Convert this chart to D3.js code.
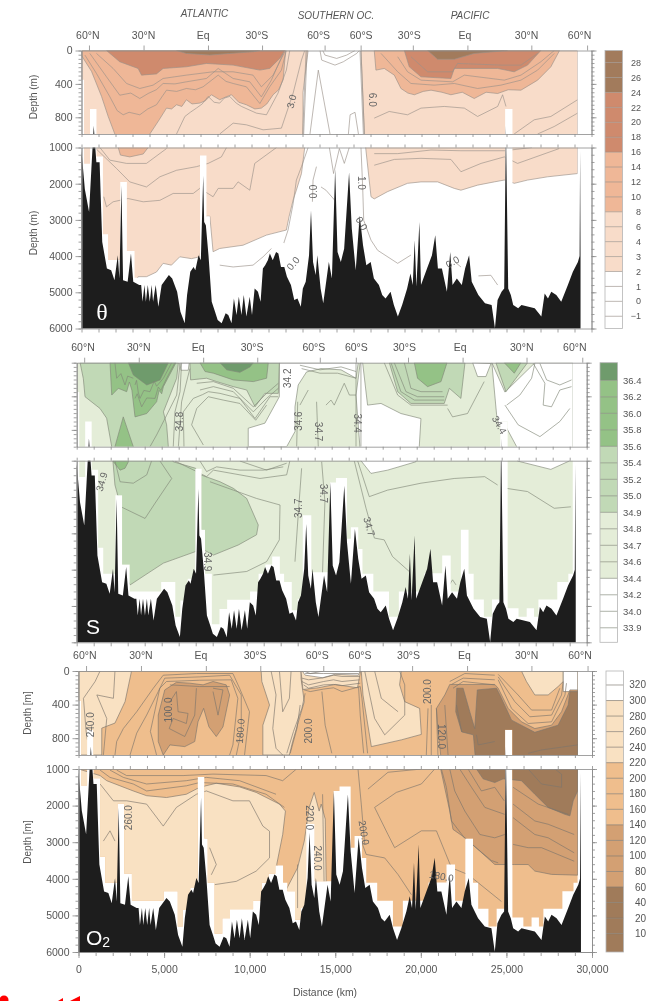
<!DOCTYPE html>
<html><head><meta charset="utf-8">
<script src="https://cdnjs.cloudflare.com/ajax/libs/d3/7.8.5/d3.min.js"></script>
<style>
html,body{margin:0;padding:0;background:#fff}
svg{display:block;filter:blur(0.45px)}
text{font-family:"Liberation Sans",Arial,sans-serif}
</style></head><body><svg id="c" width="651" height="1001"></svg>
<script>
// ---------- shared section geometry (distance km, depth m) ----------
const bathyKm=[0,195,445,580,720,875,1065,1220,1495,1745,1940,2135,2230,2350,2445,2715,2910,3045,3395,3510,3590,3705,3785,3900,4015,4130,4210,4365,4520,4715,5140,5335,5625,5820,6070,6210,6400,6595,6695,6885,7020,7160,7215,7315,7470,7660,7855,8010,8245,8480,8635,8825,8965,9120,9255,9410,9545,9700,9895,10030,10185,10380,10535,10670,10805,10960,11080,11250,11445,11580,11735,11930,12085,12320,12515,12705,12900,13020,13190,13385,13500,13620,13775,13870,14065,14220,14550,14730,14920,15060,15255,15450,15740,15900,16130,16365,16560,16755,17010,17200,17495,17690,17885,18180,18375,18610,18860,19155,19350,19485,19600,19700,19875,19970,20325,20615,20810,20965,21200,21495,21690,21825,22080,22370,22565,22800,22955,23345,23735,24125,24320,24475,24710,24865,24965,25100,25255,25395,25685,25880,26660,27050,27245,27440,27635,27930,28220,28610,28905,29200,29300,29330,29355];
const bathyDepth=[1090,2145,2785,1600,900,1410,1410,3610,4345,4390,4665,3975,4620,2055,4665,4710,3930,4710,4800,4800,5260,4800,5260,4800,5260,4800,5260,4800,5400,4800,4525,4620,4985,5535,5855,5075,4435,4300,4390,3975,4115,1780,3060,3150,3975,5260,5535,5765,5855,5580,5625,5855,5170,5625,5120,5625,5075,5670,5120,5625,4895,4985,5260,4345,4250,4115,3930,4115,3885,3930,4300,4300,4570,4800,5215,5170,5400,4895,4710,3975,2740,4160,4525,3975,4895,5305,4160,4620,1595,3885,4160,3795,1690,3245,4390,2880,3700,4250,4160,4620,4800,5075,5170,4985,5350,5670,5350,4895,4480,4800,3565,4845,3060,4800,4345,3975,3425,4345,4345,4985,3885,4800,4620,4800,4345,3975,4710,5075,5305,5350,5990,5215,4985,4895,900,4895,5075,5350,5440,5350,5440,5670,5030,5170,4985,5075,5260,4800,4435,4160,4000,1100,3975];
const floorKm=[0,150,500,880,1260,1560,2280,2670,3120,4970,5800,6100,6530,6970,7350,7550,7950,8400,8850,10200,10700,11100,11500,11950,12200,12650,13000,13300,13800,14900,15250,15900,16130,16560,16810,17450,18370,18950,20450,21500,22000,22600,23050,23350,23950,24430,24920,25350,25990,26470,26900,27160,28270,28920,29180];
const floorDepth=[350,1450,700,1250,3400,4110,1950,3860,4600,4340,5300,4850,4250,1220,2900,4110,5500,5080,4830,4600,4110,3860,3640,4110,4340,5120,4800,2500,4070,1600,1480,3150,2830,3430,4110,4600,5300,4600,4100,3610,4600,2900,4110,4820,5300,4820,700,5060,5300,5060,5300,4820,4340,4110,4110];
const latTickKm=[440,3650,7440,10620,14300,16420,19490,22700,26460,29740];
const latLabelKm=[370,3650,7150,10320,13950,16450,19280,22550,26180,29300];
const latLabels=["60°N","30°N","Eq","30°S","60°S","60°S","30°S","Eq","30°N","60°N"];

// ---------- theta ----------
const thetaLevels=["28","26","24","22","20","18","16","14","12","10","8","6","4","3","2","1","0","−1"];
const thetaColors=["#a27b5c","#cf8a6d","#efb797","#f8dcc9","#ffffff"];
const thetaPaleA=[[13330,0],[13030,500],[13030,1000],[13130,1001],[12940,1720],[12640,2180],[12450,2450],[12210,2910],[12050,3280],[10880,3420],[9500,3700],[8130,3790],[7740,3880],[7550,2900],[7350,2900],[6960,4020],[6470,4070],[5780,4020],[5290,4250],[4800,4200],[4410,4440],[3820,4570],[3330,4570],[3100,4800],[0,4800],[0,0]];
const thetaPaleP=[[16440,0],[16640,1000],[16730,1070],[17030,2360],[17220,2420],[18000,2220],[19180,1990],[19970,1950],[20950,1950],[21930,2130],[22320,2180],[23300,2040],[24280,1950],[24870,1900],[25460,1990],[26240,1900],[27420,1810],[29180,1720],[29180,0]];
const thetaSalmonA=[[0,60],[590,250],[1180,550],[1570,790],[1960,1000],[2160,1001],[2290,1210],[2840,1260],[3630,1180],[3920,1001],[4020,1000],[4570,830],[5000,690],[5300,700],[5590,650],[5900,670],[6170,590],[6500,640],[6960,630],[7300,600],[7640,530],[8130,590],[8450,560],[8820,530],[9250,620],[9700,650],[10200,700],[10580,690],[10900,640],[11270,530],[11600,470],[11860,350],[12010,0],[0,0]];
const thetaSalmonP=[[17220,0],[17320,235],[17810,215],[18400,295],[18790,455],[19200,510],[19580,530],[20100,490],[20560,475],[21200,500],[21730,530],[22400,500],[23100,575],[23800,500],[24480,515],[25100,470],[25850,475],[26830,355],[27610,195],[28120,0]];
const thetaTerraA=[[1470,0],[2250,135],[3330,215],[3530,295],[4410,280],[4800,215],[6170,195],[7350,155],[8920,175],[10490,235],[11070,215],[11660,95],[11960,0]];
const thetaTerraP=[[18990,0],[19280,195],[19970,315],[21730,335],[21930,215],[24480,215],[25450,255],[26240,175],[27020,0]];
const thetaBrownA=[[5590,0],[6170,35],[7550,55],[8730,35],[10100,15],[10490,0]];
const thetaBrownP=[[20360,0],[20950,105],[21930,105],[23100,35],[25060,0]];
const thetaLines=[
[[5590,1000],[6080,790],[6400,740],[6760,690],[7100,640],[7450,550],[7800,620],[8130,630],[8400,570],[8720,550],[9100,630],[9410,670],[10290,750],[10880,770],[11560,510],[12050,235],[12250,0]],
[[8130,1000],[8920,870],[9700,890],[10680,950],[11760,930],[12450,510],[12940,115],[13130,0]],
[[200,55],[880,275],[1670,555],[2100,720],[2450,770],[2800,740],[3430,770],[3900,700],[4410,650],[5000,475],[5600,490],[6170,455],[6700,470],[7150,435],[8040,295],[8500,370],[8920,395],[9700,435],[10490,635],[11070,435],[11760,235],[12050,0]],
[[490,35],[1470,315],[2250,535],[2900,510],[3430,575],[3920,515],[4400,470],[4800,395],[5500,400],[6170,375],[7350,335],[8040,215],[8920,335],[9900,375],[10580,555],[11170,355],[11860,35]],
[[880,35],[1860,215],[2650,395],[3430,455],[4210,415],[4800,335],[6170,295],[7740,255],[8920,255],[10090,295],[10580,435],[11270,295],[11960,15]],
[[1080,1001],[1670,1350],[2650,1440],[3820,1440],[5000,1030]],
[[780,1001],[2060,1580],[2840,1950],[3820,2090],[4610,1810],[5590,1630],[6760,1530],[7450,1440],[8230,1260],[8530,1001]],
[[1310,2360],[1470,2640],[1860,2500],[2740,2410],[3630,2500],[4610,2460],[5390,2270],[6570,2270],[6960,2130],[7740,2360],[8040,2130],[8920,2130],[9210,1950],[9900,2180],[10190,1440],[11470,1001]],
[[13330,1001],[12940,1530],[12640,1900],[12450,2550],[12150,3280],[11860,3700]],
[[13820,1530],[13620,1900],[13580,2550]],
[[14030,0],[14130,115],[14910,175],[15400,135],[16190,35],[16340,0]],
[[14190,0],[14320,55],[15010,95],[15600,55],[16090,0]],
[[15700,1000],[15800,770],[16090,740],[16290,1000]],
[[13440,1000],[13930,235],[14620,1000]],
[[13210,0],[13010,1000]],[[13270,0],[13070,1000]],[[16380,0],[16580,1000]],[[16440,0],[16640,1000]],
[[14580,1001],[14830,1720],[15170,1030],[15460,1440],[15750,1001]],
[[14088,2090],[14380,2180],[15070,2550]],
[[16440,1001],[16540,2090],[16600,3010],[17030,3560],[17420,3840],[18600,4200],[19380,3970]],
[[23200,4550],[24080,4530],[24480,4800]],
[[21240,4200],[21830,4110],[22320,4300]],
[[8130,4250],[8920,4300],[10090,4250],[10680,4020],[11170,3790]],
[[17220,810],[18100,730],[19180,770],[19970,690],[21340,670],[22520,690],[23300,790],[24480,670],[24770,530],[24970,670]],
[[25450,1000],[26630,830],[27610,790],[29180,590]],
[[26830,1000],[27810,910],[29180,750]],
[[17220,1170],[18600,1170],[20560,1070],[22320,1090],[24870,1090],[26500,1001]],
[[17220,1490],[18400,1330],[19970,1300],[21730,1330],[22320,1670],[23500,1440],[24870,1260],[25650,1440],[28100,1030]],
[[17620,35],[18600,255],[19380,395],[20750,415],[21930,395],[23300,455],[24670,415],[25850,355],[26830,235],[27810,35]],
[[18600,75],[19180,255],[19970,355],[21830,375],[22520,295],[24870,355],[25850,295],[27020,135],[27810,0]],
[[19380,75],[20360,255],[21830,255],[22120,155],[24670,175],[25850,175],[26830,35]]];
const thetaNotes=[["3.0",12360,610,-75],["6.0",17130,590,90],["0.0",13640,2220,-90],["0.0",12450,4200,-50],["1.0",16480,1980,90],["0.0",16480,3100,60],["0.0",21830,4160,-30]];

// ---------- salinity ----------
const saltLevels=["36.4","36.2","36.0","35.8","35.6","35.4","35.2","35.0","34.9","34.8","34.7","34.6","34.4","34.2","34.0","33.9"];
const saltColors=["#6f9b6c","#94c286","#c1d9b6","#e4edd8","#ffffff"];
const saltBase=[[0,0],[29200,0],[29200,6000],[0,6000]];
const saltWhiteA=[[10090,1000],[10090,780],[11070,720],[11920,405],[11920,0],[16560,0],[16430,185],[15550,85],[14370,70],[13520,110],[13030,265],[12840,525],[12840,820],[12350,1000]];
const saltWhiteP=[[16680,0],[16820,0],[17110,505],[17900,485],[19070,605],[20250,665],[20150,1000],[19950,1030],[18290,1260],[17310,1350],[16720,1001],[16430,385]];
const saltWhiteEq=[[6070,0],[6620,0],[6560,90],[6130,90]];
const saltWhiteT=[[23290,0],[23580,165],[24070,165],[24370,10]];
const saltWhiteN=[[24420,0],[24700,620],[24850,760],[25190,740],[25880,1000],[25930,1010],[27890,1240],[28970,1010],[29200,1000],[29200,0],[26960,0],[25190,350]];
const saltMidLeft=[[200,0],[390,190],[490,405],[1370,545],[1760,660],[2060,1000],[2250,1670],[2600,2270],[2600,3960],[3140,4420],[4020,4150],[5100,3820],[7000,3500],[7000,1210],[5680,1030],[5390,1000],[5290,740],[5100,585],[5880,185],[5980,0]];
const saltMidRight=[[7300,1390],[8430,1580],[9210,1760],[10000,2040],[10680,2770],[10580,3040],[9510,3320],[8040,3600],[7300,3410]];
const saltMidTop=[[6660,0],[6700,205],[7640,185],[8230,225],[9210,285],[10000,325],[10490,525],[11070,365],[11860,365],[11920,0]];
const saltMidPac=[[18390,0],[18880,345],[19660,485],[21620,485],[21920,305],[22600,425],[22840,0]];
const saltMidTri=[[24660,0],[25250,345],[26520,0]];
const saltHighA=[[1960,0],[2060,385],[2450,305],[2940,345],[3100,230],[3250,330],[3430,645],[4120,605],[4700,465],[4850,330],[5000,370],[5100,285],[5840,0]];
const saltHighW=[[2250,1000],[2740,645],[3330,1000],[3040,1030],[2840,1210],[2550,1260],[2160,1030]];
const saltHighB=[[7250,0],[7550,105],[8040,125],[9210,205],[10390,225],[11170,185],[11270,0]];
const saltHighP=[[19860,0],[20050,185],[20640,285],[21430,225],[21780,0]];
const saltHighT=[[25150,0],[25740,125],[26130,0]];
const saltTopA=[[3040,0],[3330,145],[4120,265],[4900,205],[5390,0]];
const saltTopB=[[8430,0],[8820,85],[9600,115],[10190,50],[10390,0]];
const saltLines=[
[[3430,265],[3520,210],[3620,350],[3720,425],[3950,330],[4310,345],[4560,220],[4700,280],[5100,185],[5590,0]],
[[3430,425],[3560,370],[3820,525],[4120,420],[4610,425],[4800,290],[4950,330],[5290,185],[5780,0]],
[[2250,0],[2350,185],[2600,130],[2840,265],[3000,160],[3330,185]],
[[6080,10],[5880,385],[5290,625],[4700,860],[4310,1000]],
[[6170,0],[6080,345],[5780,585],[5680,1000]],
[[6660,70],[6170,465],[5980,1000]],
[[6310,1000],[6270,585],[6860,425],[7400,380],[7740,345],[8430,365],[9600,425],[10490,665],[11370,405],[11860,405]],
[[7450,980],[6760,740],[7060,545],[7740,405],[8620,445],[9600,485],[10530,685],[11170,505]],
[[7250,325],[8040,285],[9210,345],[10390,585],[11170,425],[11860,305]],
[[7060,245],[8040,225],[9210,305],[10390,525],[11170,365],[11860,245]],
[[5780,1010],[7060,1300],[7640,1440],[8040,1260],[9600,1390],[10780,1490],[12350,1390],[12540,1001]],
[[7250,1010],[7640,1300],[8230,1170],[9600,1260],[10980,1260],[12150,1170]],
[[9600,1010],[11170,1260],[12350,1070]],
[[7840,1580],[9210,1810],[10580,2040],[11960,2220],[11920,3180],[11170,3780],[10000,4050],[8040,4150]],
[[2650,2280],[4020,2590],[4610,2170],[5590,1490],[4900,1010]],
[[2250,1001],[2550,1580],[3330,1620],[4120,1390],[4410,1001]],
[[13230,1210],[13030,2490],[12840,3780]],
[[14410,1030],[14600,2130],[14410,4790]],
[[13000,465],[12940,1000]],[[13620,325],[13130,505]],[[14110,465],[14210,1000]],
[[14660,505],[14960,445],[15150,505],[15740,245],[16040,385],[16430,385]],
[[13130,30],[14310,85],[15550,50],[16430,105]],
[[13230,70],[14310,125],[15350,125],[16430,185]],
[[16430,0],[16430,1000]],[[16720,0],[16720,1000]],
[[16330,1010],[17020,2310],[17510,3130],[18090,3180],[18580,3640],[19560,4050]],
[[16530,1010],[17210,1990],[18290,1810],[20250,1620],[22210,1490],[24000,1440],[24760,1670]],
[[25250,1760],[26520,1850],[28090,2310],[29070,2270]],
[[21130,4280],[21430,4190]],[[21920,4420],[22110,4280],[22310,4420]],
[[21820,545],[22110,645],[22990,605],[23970,225]],
[[18090,0],[18880,385],[19660,505],[21820,505]],
[[18490,0],[19070,345],[19860,445],[21620,445]],
[[18680,0],[19370,345],[20050,405],[21620,405]],
[[19270,0],[19660,305],[20250,345],[21520,345]],
[[26860,10],[27540,245],[27440,505],[27930,525],[28420,325],[29110,285]],
[[27250,10],[27640,205],[28420,265],[29110,205]],
[[25190,505],[25970,740],[27250,880],[28420,700],[29010,545]],
[[26950,10],[26760,185],[26070,385],[25290,505]]];
const saltNotes=[["34.2",12390,185,-90],["34.8",6040,700,-90],["34.9",1470,1580,-75],["34.9",7680,3780,90],["34.6",13070,695,-90],["34.7",14210,820,90],["34.7",13070,2310,-90],["34.7",14540,1900,90],["34.4",16530,720,90],["34.4",24860,740,60],["34.7",17210,2815,75]];

// ---------- oxygen ----------
const oxyLevels=["320","300","280","260","240","220","200","180","160","140","120","100","80","60","40","20","10"];
const oxyColors=["#ffffff","#f9e1c2","#efbe8d","#d3a073","#a07b5a"];
const oxyBase=[[0,0],[29160,0],[29160,6000],[0,6000]];
const oxyPaleLow=[[0,1001],[1260,1180],[1650,1320],[3200,1600],[3980,1730],[5140,1780],[6300,1690],[7080,1500],[8050,1390],[9410,1490],[10380,1640],[11740,1960],[12090,2150],[11930,2790],[11580,3610],[11830,4110],[12130,4300],[12800,3700],[13190,2970],[13480,2050],[13770,1640],[14060,2150],[14180,1960],[14415,2370],[14470,4070],[14470,6000],[0,6000]];
const oxyPaleNW=[[0,0],[3100,0],[2720,365],[2130,620],[1360,680],[1360,1000],[0,1000]];
const oxyPaleMid=[[10670,0],[13000,0],[13000,90],[13190,365],[12510,840],[12320,1000],[10770,1000],[10770,645],[11160,405],[10710,125]];
const oxyPaleSO=[[13000,0],[13110,220],[14000,200],[15000,160],[16300,200],[16480,0]];
const oxyPaleSP=[[16520,0],[16620,285],[17110,900],[18860,820],[20030,755],[19930,445],[19060,365],[18760,165],[18860,0]];
const oxyPaleNP=[[25880,0],[26170,125],[26660,285],[27440,285],[28020,185],[28320,125],[28320,0]];
const oxyWhiteSO=[[13070,0],[13250,50],[14250,80],[15000,40],[16350,50],[16450,0]];
const oxyWhiteNP=[[28320,0],[28320,245],[29160,245],[29160,0]];
const oxyMidA=[[4950,1000],[4660,840],[4660,525],[5040,225],[5720,135],[6500,145],[7280,165],[7860,125],[8630,165],[8830,285],[8440,665],[8050,780],[7620,665],[7310,445],[6980,605],[6790,840],[6210,900],[5340,880]];
const oxyMidP=[[21160,1000],[21000,720],[20910,445],[21400,285],[21690,160],[24320,160],[24520,205],[25100,445],[25880,605],[26660,685],[27640,645],[28220,485],[28710,225],[29160,225],[29160,3900],[27640,3880],[26660,3790],[26270,3610],[25490,3610],[24320,3610],[22580,2880],[21880,2650],[21690,2150],[21160,1001]];
const oxyLowP=[[22100,205],[22470,205],[22860,485],[23150,685],[23300,225],[24420,205],[24620,285],[25300,585],[26660,730],[28020,645],[28610,405],[28710,245],[29160,245],[29160,1600],[28900,1870],[28710,2280],[28420,2240],[27440,2050],[26660,1690],[25880,1320],[24810,1270],[24320,1370],[23640,1270],[23250,1001],[23170,1000],[23070,760],[22390,725],[22040,485]];
const oxyLines=[
[[1260,0],[970,125],[290,325],[445,720],[520,820]],
[[2130,0],[2040,325],[1070,285],[1650,565],[1455,1000]],
[[2130,1000],[2230,840],[2620,685],[3400,485],[4370,205],[4950,50],[6890,30],[9020,30],[9410,205],[9990,485],[9700,1000]],
[[3010,1000],[3400,740],[3980,525],[4660,245],[5040,85],[7080,70],[8830,50],[9510,285],[9510,720],[9220,1000]],
[[4560,1000],[4200,720],[4750,205],[5140,125],[7080,110],[8920,105],[9310,325],[9020,880],[8830,1000]],
[[5340,365],[5720,245],[5820,485],[6400,505],[6300,625],[5530,565],[5300,685],[6210,780],[6790,525],[6890,205]],
[[7860,205],[8440,225],[8150,525],[7860,245]],
[[5340,165],[7080,185],[8830,185]],
[[11250,0],[11540,285],[11350,685],[11540,920],[11930,1000]],
[[11740,0],[11930,485],[12320,325],[12420,0]],
[[13050,85],[13440,105],[14320,80],[14900,50],[15390,65],[16420,65]],
[[13050,125],[13440,165],[14320,125],[14900,105],[15390,125],[16420,105]],
[[13150,165],[13440,205],[14320,165],[14900,160],[15390,175],[16460,145]],
[[13180,225],[13540,245],[14320,215],[14900,200],[15390,245],[16460,185]],
[[14220,245],[14410,645],[14800,980]],
[[16460,185],[16560,325],[16890,980]],[[16360,185],[16460,525],[16660,980]],
[[12950,405],[12760,685],[12370,980]],[[13240,265],[13050,445],[12560,720],[12170,980]],
[[13150,0],[13540,30],[14320,0]],[[13240,30],[14320,30],[16360,30]],
[[1260,1030],[1840,1230],[3200,1410],[3980,1600],[6300,1460],[7080,1370],[9020,1410],[10960,1690],[12030,2050]],
[[1840,1030],[2620,1230],[3980,1410],[6300,1320],[7470,1230],[9410,1320],[11540,1690]],
[[2230,1030],[2810,1180],[6110,1180],[7860,1140],[10960,1180],[11930,1320],[12710,1010]],
[[2810,1870],[3980,1960],[4950,2560],[5720,2050],[6890,1690],[7470,1600],[9020,1870],[9990,1870],[10770,2560],[11160,2700],[11160,3430],[10380,3790],[9220,4070],[7950,4160]],
[[1260,1410],[2040,1870],[2810,1870]],
[[1455,2970],[1840,2690],[2130,2970]],
[[7660,3150],[8050,3610],[7760,3890]],
[[12800,3610],[12800,4800]],
[[14260,1690],[14360,4430]],
[[16330,1001],[16520,1960],[16720,3060]],
[[16910,1550],[18080,1090],[20030,1001]],
[[17300,2050],[18570,1640],[20030,1410],[20810,1001]],
[[17300,2050],[18080,2790],[18470,3150],[20030,2690],[20910,2690],[21790,3700],[22760,3885],[24710,4620]],
[[16520,2970],[16810,3335],[17890,3430],[18670,3885],[19450,4435]],
[[21200,1001],[21490,1500],[21790,2420],[22560,2890],[24120,3500],[24520,3565]],
[[21690,1001],[21980,1600],[22570,2150],[23450,2790],[24320,2880],[24900,2790]],
[[22270,1001],[22960,1500],[23740,2050],[24900,2240]],
[[22760,1001],[23540,1600],[24320,1500],[24870,1870]],
[[25390,1500],[26860,1960],[28610,2240]],
[[25390,1960],[26660,2420],[27440,2510],[28960,2790]],
[[25390,2330],[26660,2790],[27440,2880],[28960,3290]],
[[25390,3060],[26270,3150],[27050,3150],[28960,3520]],
[[26270,1001],[27050,1410],[28220,1500],[28220,1140],[27830,1001]],
[[20420,445],[20320,1000]],[[20610,405],[20610,1000]],[[20910,445],[21000,1000]],[[21400,405],[21590,1000]],
[[22080,405],[22390,725]],
[[23250,760],[23350,880],[24320,840]],
[[26270,980],[27050,940],[29160,880]],
[[24520,105],[25300,445],[26270,625],[27640,605],[28420,285],[28510,145]],
[[24520,70],[25490,365],[26370,545],[27640,525],[28220,285],[28320,125]],
[[24520,40],[25680,285],[26470,465],[27640,465],[28120,205]],
[[21690,125],[22570,30],[24320,50]],[[21790,160],[22470,85],[24320,105]],[[21880,205],[22470,125],[24320,165]],
[[16720,0],[17300,565],[17890,760],[19060,525],[19060,165],[18760,0]],
[[17300,0],[17690,325],[18670,485]]];
const oxyNotes=[["240.0",720,640,-90],["100.0",5240,465,-90],["180.0",9450,715,-85],["200.0",13440,715,-90],["260.0",2910,2330,-90],["220.0",13480,2330,90],["240.0",13970,3430,90],["200.0",20380,245,-90],["120.0",21200,780,90],["200.0",16680,2740,80],["180.0",21200,3930,10]];

const distanceTicks=d3.range(0,30001,1000), distanceLabels=d3.range(0,30001,5000);
const upperTicks=[0,400,800], lowerTicks=[1000,2000,3000,4000,5000,6000];
const upperMinor=d3.range(0,1001,50), lowerMinor=d3.range(1000,6001,200);

const svg=d3.select("#c");
const axisColor="#8a8a8a", textColor="#555";
function styleAxis(g){g.selectAll("path,line").attr("stroke",axisColor).attr("stroke-width",0.8);
  g.selectAll("text").attr("fill",textColor).attr("font-size",10.5).attr("font-family","Liberation Sans");return g;}

function panel(o){
  const x=d3.scaleLinear().domain([0,30000]).range([o.x0,o.x1]);
  const y=d3.scaleLinear().domain([0,1000,1000.5,6000]).range([o.y0,o.y1,o.y2,o.y3]);
  const yU=d3.scaleLinear().domain([0,1000]).range([o.y0,o.y1]);
  const yL=d3.scaleLinear().domain([1000,6000]).range([o.y2,o.y3]);
  const g=svg.append("g");
  const line=d3.line().x(d=>x(d[0])).y(d=>y(d[1]));
  const floorPts=floorKm.map((k,i)=>[k,floorDepth[i]]);
  const area=d3.area().curve(d3.curveStepAfter).x(d=>x(d[0])).y0(y(0)).y1(d=>y(d[1]));
  g.append("clipPath").attr("id","clip"+o.id).append("path").attr("d",area(floorPts));
  const body=g.append("g").attr("clip-path",`url(#clip${o.id})`);
  o.regions.forEach(r=>{
    body.append("path").attr("d",line(r.pts)+"Z").attr("fill",r.color)
      .attr("stroke",r.base?"none":o.lineColor).attr("stroke-width",r.base?0:0.65);
  });
  o.lines.forEach(l=>body.append("path").attr("d",line(l)).attr("fill","none").attr("stroke",o.lineColor).attr("stroke-width",0.65));
  const bathy=d3.area().x(d=>x(d[0])).y0(y(6000)).y1(d=>y(d[1]));
  g.append("path").attr("d",bathy(bathyKm.map((k,i)=>[k,bathyDepth[i]]).concat([[29355,6000]]))).attr("fill","#1d1d1d");
  g.append("rect").attr("x",o.x0-10).attr("width",o.x1-o.x0+20).attr("y",o.y1).attr("height",o.y2-o.y1).attr("fill","#fff");
  // contour value labels
  o.notes.forEach(n=>g.append("text").text(n[0]).attr("transform",`translate(${x(n[1])},${y(n[2])}) rotate(${n[3]})`)
    .attr("text-anchor","middle").attr("dy","0.35em").attr("font-size",10).attr("fill","#666"));
  // axes
  const tf=d3.format(",");
  [[yU,upperMinor,upperTicks],[yL,lowerMinor,lowerTicks]].forEach(([s,minor,major])=>{
    styleAxis(svg.append("g").attr("transform",`translate(${o.x0},0)`).call(d3.axisLeft(s).tickValues(minor).tickSize(3).tickSizeOuter(0).tickFormat("")));
    styleAxis(svg.append("g").attr("transform",`translate(${o.x0},0)`).call(d3.axisLeft(s).tickValues(major).tickSize(o.depthLabels?6:5).tickSizeOuter(0).tickPadding(3).tickFormat(o.depthLabels?d=>d:"")));
    styleAxis(svg.append("g").attr("transform",`translate(${o.x1},0)`).call(d3.axisRight(s).tickValues(minor).tickSize(3).tickSizeOuter(0).tickFormat("")));
    styleAxis(svg.append("g").attr("transform",`translate(${o.x1},0)`).call(d3.axisRight(s).tickValues(major).tickSize(5).tickSizeOuter(0).tickFormat("")));
  });
  const xA=(fn,yy,size)=>styleAxis(svg.append("g").attr("transform",`translate(0,${yy})`).call(fn(x).tickValues(distanceTicks).tickSize(size).tickSizeOuter(0).tickFormat("")));
  xA(d3.axisBottom,o.y1,3); xA(d3.axisTop,o.y2,3); xA(d3.axisBottom,o.y3,4);
  styleAxis(svg.append("g").attr("transform",`translate(0,${o.y0})`).call(d3.axisTop(x).tickValues(latTickKm).tickSize(5).tickSizeOuter(0).tickFormat("")));
  latLabels.forEach((t,i)=>svg.append("text").text(t).attr("x",x(latLabelKm[i])).attr("y",o.latY).attr("text-anchor","middle").attr("dy","0.35em").attr("font-size",10.5).attr("fill",textColor));
  if(o.distance){
    styleAxis(svg.append("g").attr("transform",`translate(0,${o.y3})`).call(d3.axisBottom(x).tickValues(distanceLabels).tickSize(6).tickSizeOuter(0).tickPadding(8).tickFormat(tf)));
  }
  if(o.depthLabels){
    [[o.yTitleU],[o.yTitleL]].forEach(([cy])=>svg.append("text").text(o.depthLabels).attr("transform",`translate(${o.titleX},${cy}) rotate(-90)`).attr("text-anchor","middle").attr("dy","0.35em").attr("font-size",10).attr("fill",textColor));
  }
  // colour bar
  const n=o.levels.length;
  const c=d3.scaleLinear().domain(o.barDomain).range([o.y0,o.y3]);
  const cells=[]; o.barCounts.forEach((m,i)=>{for(let j=0;j<m;j++)cells.push(o.barColors[i]);});
  cells.forEach((col,k)=>{
    const a=c(k===0?o.barDomain[0]:k-1), b=c(k===n?o.barDomain[1]:k);
    svg.append("rect").attr("x",o.barX).attr("y",a).attr("width",17.5).attr("height",b-a).attr("fill",col);
    if(k>0) svg.append("line").attr("x1",o.barX).attr("x2",o.barX+17.5).attr("y1",a).attr("y2",a).attr("stroke",o.lineColor).attr("stroke-width",0.65);
  });
  svg.append("rect").attr("x",o.barX).attr("y",o.y0).attr("width",17.5).attr("height",o.y3-o.y0).attr("fill","none").attr("stroke","#b5b5b5").attr("stroke-width",0.8);
  o.levels.forEach((t,i)=>svg.append("text").text(t).attr("x",o.barLabelX).attr("y",c(i)).attr("text-anchor","end").attr("dy","0.35em").attr("font-size",o.barFont).attr("fill",textColor));
}

panel({id:"t",x0:81.5,x1:591.5,y0:50.5,y1:134,y2:147.5,y3:328.5,latY:35,lineColor:"#9b928a",
  regions:[{pts:thetaPaleA,color:thetaColors[3]},{pts:thetaPaleP,color:thetaColors[3]},{pts:thetaSalmonA,color:thetaColors[2]},{pts:thetaSalmonP,color:thetaColors[2]},{pts:thetaTerraA,color:thetaColors[1]},{pts:thetaTerraP,color:thetaColors[1]},{pts:thetaBrownA,color:thetaColors[0]},{pts:thetaBrownP,color:thetaColors[0]}],
  lines:thetaLines,notes:thetaNotes,depthLabels:"Depth (m)",titleX:33,yTitleU:97,yTitleL:233,
  levels:thetaLevels,barDomain:[-0.81,17.82],barCounts:[3,4,4,4,4],barColors:thetaColors,barX:605,barLabelX:641,barFont:9});
panel({id:"s",x0:76.7,x1:586.7,y0:362.7,y1:446.7,y2:460.7,y3:642.3,latY:347,lineColor:"#828878",
  regions:[{pts:saltBase,color:saltColors[3],base:true},{pts:saltWhiteA,color:"#fff"},{pts:saltWhiteP,color:"#fff"},{pts:saltWhiteEq,color:"#fff"},{pts:saltWhiteT,color:"#fff"},{pts:saltWhiteN,color:"#fff"},
    {pts:saltMidLeft,color:saltColors[2]},{pts:saltMidRight,color:saltColors[2]},{pts:saltMidTop,color:saltColors[2]},{pts:saltMidPac,color:saltColors[2]},{pts:saltMidTri,color:saltColors[2]},
    {pts:saltHighA,color:saltColors[1]},{pts:saltHighW,color:saltColors[1]},{pts:saltHighB,color:saltColors[1]},{pts:saltHighP,color:saltColors[1]},{pts:saltHighT,color:saltColors[1]},
    {pts:saltTopA,color:saltColors[0]},{pts:saltTopB,color:saltColors[0]}],
  lines:saltLines,notes:saltNotes,depthLabels:null,
  levels:saltLevels,barDomain:[-1.07,15.88],barCounts:[1,4,4,4,4],barColors:saltColors,barX:600,barLabelX:641.5,barFont:9.5});
panel({id:"o",x0:78.5,x1:592,y0:671,y1:755,y2:769,y3:952,latY:655,lineColor:"#7d766c",distance:true,
  regions:[{pts:oxyBase,color:oxyColors[2],base:true},{pts:oxyPaleLow,color:oxyColors[1]},{pts:oxyPaleNW,color:oxyColors[1]},{pts:oxyPaleMid,color:oxyColors[1]},{pts:oxyPaleSO,color:oxyColors[1]},{pts:oxyPaleSP,color:oxyColors[1]},{pts:oxyPaleNP,color:oxyColors[1]},
    {pts:oxyWhiteSO,color:"#fff"},{pts:oxyWhiteNP,color:"#fff"},{pts:oxyMidA,color:oxyColors[3]},{pts:oxyMidP,color:oxyColors[3]},{pts:oxyLowP,color:oxyColors[4]}],
  lines:oxyLines,notes:oxyNotes,depthLabels:"Depth [m]",titleX:27,yTitleU:713,yTitleL:842,
  levels:oxyLevels,barDomain:[-0.9,17.18],barCounts:[2,4,4,4,4],barColors:oxyColors,barX:606,barLabelX:646,barFont:10});

// text overlays
const oceans=[["ATLANTIC",204.5,13.5],["SOUTHERN OC.",336,15],["PACIFIC",470,15]];
oceans.forEach(d=>svg.append("text").text(d[0]).attr("x",d[1]).attr("y",d[2]).attr("text-anchor","middle").attr("dy","0.35em").attr("font-size",10).attr("font-style","italic").attr("fill",textColor));
svg.append("text").text("θ").attr("x",102).attr("y",312).attr("text-anchor","middle").attr("dy","0.35em").attr("font-size",24).style("font-family","'Liberation Serif'").attr("fill","#fff");
svg.append("text").text("S").attr("x",93).attr("y",627).attr("text-anchor","middle").attr("dy","0.35em").attr("font-size",21).attr("fill","#fff");
const o2=svg.append("text").attr("x",86).attr("y",945).attr("font-size",21).attr("fill","#fff");
o2.append("tspan").text("O");o2.append("tspan").text("2").attr("font-size",14).attr("dy",2);
svg.append("text").text("Distance (km)").attr("x",325).attr("y",992).attr("text-anchor","middle").attr("dy","0.35em").attr("font-size",10.4).attr("fill",textColor);
// fragments of a red scribble that runs off the bottom edge of the page
const scribble=svg.append("g").attr("fill","#f00");
scribble.append("circle").attr("cx",4).attr("cy",1000).attr("r",4.5);
scribble.append("path").attr("d","M58 1001L63 998L63 1001Z");
scribble.append("path").attr("d","M70 1001L80 996L80 1001Z");
</script></body></html>
